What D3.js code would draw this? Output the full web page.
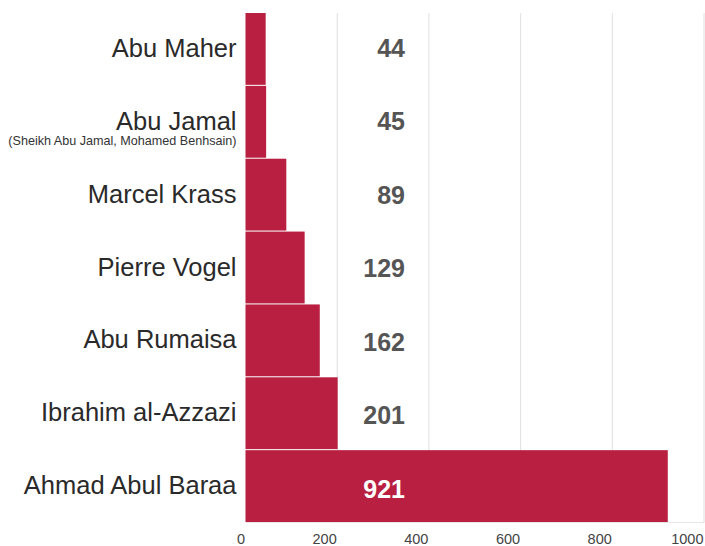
<!DOCTYPE html>
<html>
<head>
<meta charset="utf-8">
<script src="https://cdnjs.cloudflare.com/ajax/libs/d3/7.8.5/d3.min.js"></script>
<style>
    body { margin: 0; background: #fff; }
    svg text { font-family: "Liberation Sans", Arial, sans-serif; }
</style>
</head>
<body>
<div id="chart"></div>
<script>
var names = ["Abu Maher", "Abu Jamal", "Marcel Krass", "Pierre Vogel", "Abu Rumaisa", "Ibrahim al-Azzazi", "Ahmad Abul Baraa"];
var subtitles = ["", "(Sheikh Abu Jamal, Mohamed Benhsain)", "", "", "", "", ""];
var counts = [44, 45, 89, 129, 162, 201, 921];
var ticks = [0, 200, 400, 600, 800, 1000];

var data = names.map(function(n, i) {
    return {name: n, sub: subtitles[i], value: counts[i]};
});

drawChart(data, "#chart");

function drawChart(data, pos) {
    var margin = {top: 13, right: 1, bottom: 24, left: 245.5};
    var width = 705 - margin.left - margin.right;
    var height = 546 - margin.top - margin.bottom;

    var x = d3.scaleLinear()
        .domain([0, 1000])
        .range([0, width]);

    var y = d3.scaleBand()
        .domain(names)
        .range([0, height])
        .paddingInner(0.014);

    var svg = d3.select(pos).append("svg")
        .attr("width", width + margin.left + margin.right)
        .attr("height", height + margin.top + margin.bottom)
        .append("g")
        .attr("transform", "translate(" + margin.left + "," + margin.top + ")");

    // grid lines
    svg.selectAll(".grid")
        .data(ticks.slice(1))
        .enter().append("line")
        .attr("class", "grid")
        .attr("x1", function(d) { return x(d); })
        .attr("x2", function(d) { return x(d); })
        .attr("y1", 0)
        .attr("y2", height)
        .style("stroke", "#e0e0e0")
        .style("stroke-width", 1);

    // x axis
    var xAxis = svg.append("g")
        .attr("transform", "translate(0," + height + ")")
        .call(d3.axisBottom(x).tickValues(ticks).tickFormat(d3.format("d")).tickSize(0).tickPadding(0));
    xAxis.select(".domain").style("stroke", "#e6e6e6");
    xAxis.selectAll("text")
        .attr("text-anchor", "end")
        .attr("dy", null)
        .attr("y", 22)
        .attr("x", -1)
        .style("font-size", "14.5px")
        .style("fill", "#444")
        .style("font-family", "\"Liberation Sans\", Arial, sans-serif");

    // bars
    svg.selectAll(".bar")
        .data(data)
        .enter().append("rect")
        .attr("class", "bar")
        .attr("x", 0)
        .attr("y", function(d) { return y(d.name); })
        .attr("width", function(d) { return x(d.value); })
        .attr("height", y.bandwidth())
        .style("fill", "#b81f41");

    // category labels
    var lab = svg.selectAll(".label")
        .data(data)
        .enter().append("g")
        .attr("class", "label")
        .attr("transform", function(d) { return "translate(-9," + (y(d.name) + y.bandwidth() / 2) + ")"; });

    lab.append("text")
        .attr("text-anchor", "end")
        .attr("y", 8)
        .style("font-size", "25.5px")
        .style("fill", "#2a2a2a")
        .text(function(d) { return d.name; });

    lab.filter(function(d) { return d.sub !== ""; })
        .append("text")
        .attr("text-anchor", "end")
        .attr("y", 23.5)
        .style("font-size", "12.6px")
        .style("fill", "#333")
        .text(function(d) { return d.sub; });

    // value labels
    svg.selectAll(".value")
        .data(data)
        .enter().append("text")
        .attr("class", "value")
        .attr("text-anchor", "end")
        .attr("x", 159.5)
        .attr("y", function(d, i) { return y(d.name) + y.bandwidth() / 2 + 8 + i * 0.6; })
        .style("font-size", "25px")
        .style("font-weight", "bold")
        .style("fill", function(d) { return x(d.value) > 160 ? "#fff" : "#555"; })
        .text(function(d) { return d.value; });
}
</script>
</body>
</html>
